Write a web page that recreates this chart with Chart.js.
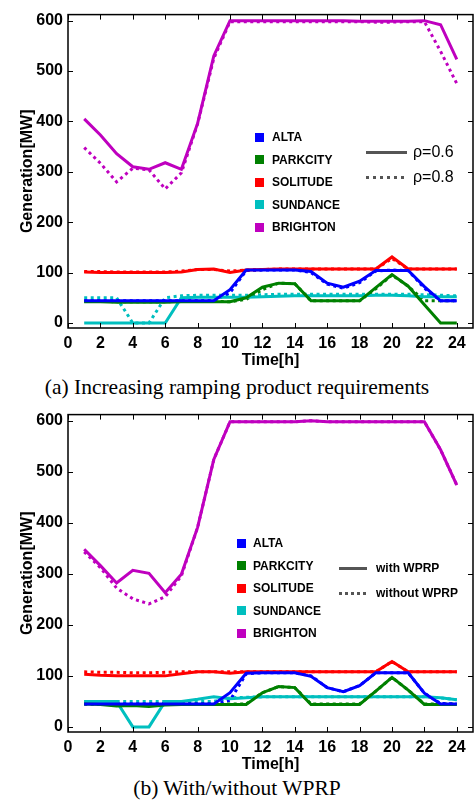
<!DOCTYPE html>
<html><head><meta charset="utf-8">
<script src="https://cdn.jsdelivr.net/npm/chart.js@4.4.1/dist/chart.umd.min.js"></script>
<style>
html,body{margin:0;padding:0;background:#fff;width:474px;height:801px;overflow:hidden;position:relative;}
canvas{position:absolute;left:0;display:block;}
#ca{top:0;}
#cb{top:400px;}
.cap{position:absolute;left:0;width:474px;text-align:center;font-family:"Liberation Serif","Times New Roman",serif;font-size:21.5px;line-height:22px;color:#000;white-space:nowrap;}
.lg{position:absolute;font-family:"Liberation Sans",Arial,sans-serif;color:#000;white-space:nowrap;line-height:16px;}
.sq{position:absolute;width:9px;height:9px;}
.ln{position:absolute;height:3px;}
</style>
</head><body>
<canvas id="ca" width="474" height="372"></canvas>
<canvas id="cb" width="474" height="374"></canvas>
<div class="cap" id="capA" style="top:376px">(a) Increasing ramping product requirements</div>
<div class="cap" id="capB" style="top:777px">(b) With/without WPRP</div>
<div id="legA"></div>
<div id="legB"></div>
<script>
// ---------- data ----------
const hours = [1,2,3,4,5,6,7,8,9,10,11,12,13,14,15,16,17,18,19,20,21,22,23,24];
const plants = ['ALTA','PARKCITY','SOLITUDE','SUNDANCE','BRIGHTON'];
const xTicks = [0,2,4,6,8,10,12,14,16,18,20,22,24];
const yTicks = [0,100,200,300,400,500,600];

// (a) rho = 0.6 (solid)
const a06_ALTA     = [44,44,44,44,44,44,44,44,44,66,105,105,105,105,102,79,71,83,104,104,104,72,44,44];
const a06_PARKCITY = [42,42,41,41,41,41,42,42,42,42,50,71,79,78,44,44,44,44,70,96,73,36,0,0];
const a06_SOLITUDE = [101,100,100,100,100,100,101,106,107,100,105,106,107,107,107,107,107,107,107,131,107,107,107,107];
const a06_SUNDANCE = [0,0,0,0,0,0,50,51,51,51,51,52,53,54,54,54,54,54,55,55,54,52,52,52];
const a06_BRIGHTON = [405,373,336,310,305,318,305,396,530,600,600,600,600,600,600,600,600,599,599,599,599,600,592,523];
// (a) rho = 0.8 (dotted)
const a08_ALTA     = [44,44,44,44,44,44,44,44,44,60,104,105,105,105,100,77,69,80,103,105,104,69,44,44];
const a08_PARKCITY = [43,43,42,42,42,42,43,43,43,42,47,66,79,78,44,44,44,44,68,95,73,44,44,44];
const a08_SOLITUDE = [102,102,101,101,101,101,103,106,106,103,105,106,107,107,107,107,107,107,107,128,107,107,107,107];
const a08_SUNDANCE = [50,50,50,0,0,50,54,55,55,55,55,56,57,57,57,57,57,57,57,57,57,56,55,54];
const a08_BRIGHTON = [348,317,280,307,304,266,298,395,525,598,598,598,598,598,598,598,598,598,597,597,598,598,539,475];

// (b) with WPRP (solid)
const bW_ALTA     = [45,45,45,45,45,45,45,45,45,67,105,106,106,106,99,77,69,81,106,106,106,66,45,45];
const bW_PARKCITY = [45,44,41,42,40,43,44,44,44,44,44,67,79,77,44,44,44,44,70,97,72,44,44,44];
const bW_SOLITUDE = [103,101,100,100,100,100,104,108,108,105,108,108,108,108,108,108,108,108,108,128,108,108,108,108];
const bW_SUNDANCE = [50,50,50,0,0,50,50,54,59,55,57,59,59,59,59,59,59,59,59,59,59,59,57,53];
const bW_BRIGHTON = [348,316,282,307,301,263,299,391,524,598,598,598,598,598,600,598,598,598,598,598,598,598,543,474];
// (b) without WPRP (dotted)
const bN_ALTA     = [45,45,45,45,45,45,45,45,45,52,104,106,106,106,100,77,69,81,106,106,106,66,46,45];
const bN_PARKCITY = [45,45,44,44,44,45,45,45,45,45,45,67,79,77,45,45,45,45,70,97,72,45,45,45];
const bN_SOLITUDE = [108,107,107,106,106,107,108,108,108,108,108,108,108,108,108,108,108,108,108,128,108,108,108,108];
const bN_SUNDANCE = [50,50,50,50,50,50,50,50,50,57,58,59,59,59,59,59,59,59,59,59,59,59,57,53];
const bN_BRIGHTON = [343,312,272,251,241,255,296,391,524,598,598,598,598,598,600,598,598,598,598,598,598,598,543,474];

const colors = ['#0000ff','#008000','#ff0000','#00bfbf','#bf00bf'];
const styleLabelsA = ['\u03c1=0.6','\u03c1=0.8'];
const styleLabelsB = ['with WPRP','without WPRP'];

const solidA = [a06_ALTA,a06_PARKCITY,a06_SOLITUDE,a06_SUNDANCE,a06_BRIGHTON];
const dotA   = [a08_ALTA,a08_PARKCITY,a08_SOLITUDE,a08_SUNDANCE,a08_BRIGHTON];
const solidB = [bW_ALTA,bW_PARKCITY,bW_SOLITUDE,bW_SUNDANCE,bW_BRIGHTON];
const dotB   = [bN_ALTA,bN_PARKCITY,bN_SOLITUDE,bN_SUNDANCE,bN_BRIGHTON];

// ---------- chart ----------
const FONT = '"Liberation Sans", Arial, sans-serif';
const framePlugin = {
  id:'frame',
  afterDatasetsDraw(chart){
    const ctx = chart.ctx, a = chart.chartArea, x = chart.scales.x, y = chart.scales.y;
    ctx.save();
    ctx.strokeStyle = '#000';
    ctx.lineWidth = 1;
    ctx.beginPath();
    xTicks.forEach(v=>{ const p = Math.round(x.getPixelForValue(v))+0.5;
      ctx.moveTo(p,a.bottom); ctx.lineTo(p,a.bottom-5);
      ctx.moveTo(p,a.top); ctx.lineTo(p,a.top+5); });
    yTicks.forEach(v=>{ const p = Math.round(y.getPixelForValue(v))+0.5;
      ctx.moveTo(a.left,p); ctx.lineTo(a.left+5,p);
      ctx.moveTo(a.right,p); ctx.lineTo(a.right-5,p); });
    ctx.stroke();
    ctx.lineWidth = 1.5;
    ctx.strokeRect(a.left, a.top, a.right-a.left, a.bottom-a.top);
    ctx.restore();
  }
};

function makeChart(id, solid, dotted, padTop, xHeight, titlePadBottom){
  const datasets = [];
  plants.forEach((p,i)=>{
    datasets.push({label:p, data:hours.map((h,k)=>({x:h,y:solid[i][k]})), borderColor:colors[i],
      borderWidth:3, pointRadius:0, tension:0, fill:false, order:1});
  });
  plants.forEach((p,i)=>{
    datasets.push({label:p+' dotted', data:hours.map((h,k)=>({x:h,y:dotted[i][k]})), borderColor:colors[i],
      borderWidth:3, borderDash:[3,3.5], pointRadius:0, tension:0, fill:false, order:2});
  });
  return new Chart(document.getElementById(id), {
    type:'line',
    data:{datasets},
    plugins:[framePlugin],
    options:{
      responsive:false, animation:false, events:[],
      layout:{padding:{top:padTop,right:1,left:0,bottom:0}},
      plugins:{legend:{display:false}, tooltip:{enabled:false}},
      scales:{
        x:{type:'linear', min:0, max:25, bounds:'data',
           grid:{display:false, drawTicks:false}, border:{display:false},
           ticks:{padding:6, color:'#000', maxRotation:0, autoSkip:false,
                  font:{family:FONT, size:16, weight:'bold'}},
           afterBuildTicks(s){ s.ticks = xTicks.map(v=>({value:v})); },
           title:{display:true, text:'Time[h]', color:'#000', padding:{top:0,bottom:titlePadBottom},
                  font:{family:FONT, size:16, weight:'bold'}},
           afterFit(s){ s.height = xHeight; }},
        y:{type:'linear', min:-10, max:612, bounds:'data',
           grid:{display:false, drawTicks:false}, border:{display:false},
           ticks:{padding:5, color:'#000', autoSkip:false,
                  font:{family:FONT, size:16, weight:'bold'}},
           afterBuildTicks(s){ s.ticks = yTicks.map(v=>({value:v})); },
           title:{display:true, text:'Generation[MW]', color:'#000', padding:{top:18,bottom:0},
                  font:{family:FONT, size:16, weight:'bold'}},
           afterFit(s){ s.width = 68; }}
      }
    }
  });
}
makeChart('ca', solidA, dotA, 2, 44, 2);
makeChart('cb', solidB, dotB, 3, 42, 0);

// ---------- legends (HTML text) ----------
function legend(el, sqLeft, txtLeft, rowTop, step, lineLeft, lineW, lineY1, lineY2, styleLabels, styleFont, period){
  let h = '';
  plants.forEach((p,i)=>{
    const cy = rowTop + step*i;
    h += `<div class="sq" style="left:${sqLeft}px;top:${cy-4.5}px;background:${colors[i]}"></div>`;
    h += `<div class="lg" style="left:${txtLeft}px;top:${cy-8}px;font-size:12px;font-weight:bold">${p}</div>`;
  });
  h += `<div class="ln" style="left:${lineLeft}px;top:${lineY1-1.5}px;width:${lineW}px;background:#555"></div>`;
  h += `<div class="ln" style="left:${lineLeft}px;top:${lineY2-1.5}px;width:${lineW}px;background:repeating-linear-gradient(to right,#555 0 3px,transparent 3px ${period}px)"></div>`;
  const tl = lineLeft + lineW + (styleFont.size>13?6:9);
  [lineY1,lineY2].forEach((yy,i)=>{
    h += `<div class="lg" style="left:${tl}px;top:${yy-8}px;font-size:${styleFont.size}px;font-weight:${styleFont.weight}">${styleLabels[i]}</div>`;
  });
  document.getElementById(el).innerHTML = h;
}
legend('legA', 255, 272, 137, 22.5, 366, 41, 152, 177, styleLabelsA, {size:16, weight:'normal'}, 7);
legend('legB', 237, 253, 543, 22.6, 339, 28, 568, 593, styleLabelsB, {size:12, weight:'bold'}, 6);
</script>
</body></html>
